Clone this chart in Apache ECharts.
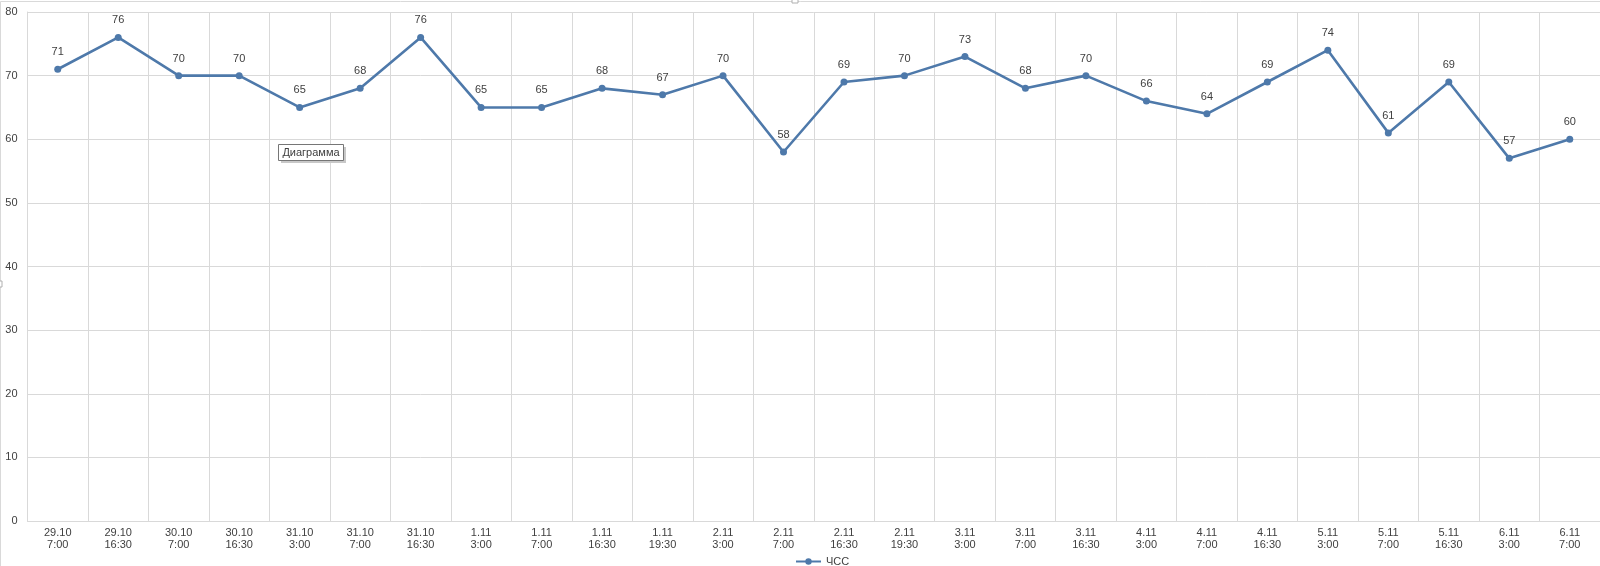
<!DOCTYPE html>
<html>
<head>
<meta charset="utf-8">
<script src="https://cdn.jsdelivr.net/npm/echarts@6/dist/echarts.min.js"></script>
<style>
html,body{margin:0;padding:0;background:#fff;}
#c{width:1600px;height:566px;}
</style>
</head>
<body>
<div id="c"></div>
<script>
const categories = ["29.10\n7:00","29.10\n16:30","30.10\n7:00","30.10\n16:30","31.10\n3:00","31.10\n7:00","31.10\n16:30","1.11\n3:00","1.11\n7:00","1.11\n16:30","1.11\n19:30","2.11\n3:00","2.11\n7:00","2.11\n16:30","2.11\n19:30","3.11\n3:00","3.11\n7:00","3.11\n16:30","4.11\n3:00","4.11\n7:00","4.11\n16:30","5.11\n3:00","5.11\n7:00","5.11\n16:30","6.11\n3:00","6.11\n7:00"];
const hr = [71,76,70,70,65,68,76,65,65,68,67,70,58,69,70,73,68,70,66,64,69,74,61,69,57,60];
const seriesName = "ЧСС";
const yMin = 0, yMax = 80, yInterval = 10;

const FONT = "Liberation Sans";
const chart = echarts.init(document.getElementById('c'), null, {renderer:'canvas'});
chart.setOption({
  animation:false,
  backgroundColor:'#fff',
  textStyle:{fontFamily:FONT},
  grid:{left:27.5, top:12, width:1583, bottom:45, containLabel:false},
  legend:{
    data:[seriesName], left:790, top:551, itemWidth:25, itemHeight:8, itemGap:5,
    textStyle:{fontFamily:FONT,fontSize:11,color:'#404040'}
  },
  xAxis:{
    type:'category', data:categories, boundaryGap:true,
    axisLine:{show:true,lineStyle:{color:'#d9d9d9',width:1}},
    axisTick:{show:false},
    splitLine:{show:true,lineStyle:{color:'#d9d9d9',width:1}},
    axisLabel:{interval:0,fontFamily:FONT,fontSize:11,color:'#404040',lineHeight:12,margin:6}
  },
  yAxis:{
    type:'value', min:yMin, max:yMax, interval:yInterval,
    axisLine:{show:true,lineStyle:{color:'#d9d9d9'}},
    axisTick:{show:false},
    splitLine:{show:true,lineStyle:{color:'#d9d9d9',width:1}},
    axisLabel:{fontFamily:FONT,fontSize:11,color:'#404040',margin:10}
  },
  series:[{
    name:seriesName, type:'line', data:hr,
    symbol:'circle', symbolSize:7,
    lineStyle:{color:'#4e79aa',width:2.6},
    itemStyle:{color:'#4e79aa'},
    label:{show:true,position:'top',distance:8,fontFamily:FONT,fontSize:11,color:'#404040'}
  }],
  graphic:[
    {type:'rect',shape:{x:0.5,y:1.5,width:1620,height:600},style:{fill:null,stroke:'#d9d9d9',lineWidth:1},silent:true,z:-1},
    {type:'rect',shape:{x:792,y:-2,width:6,height:5},style:{fill:'#fff',stroke:'#b0b0b0',lineWidth:1},silent:true},
    {type:'rect',shape:{x:-3,y:281,width:5,height:6},style:{fill:'#fff',stroke:'#b0b0b0',lineWidth:1},silent:true},
    {type:'rect',shape:{x:281,y:147,width:65,height:16},style:{fill:'#c8c8c8',stroke:null},silent:true,z:100},
    {type:'rect',shape:{x:278.5,y:144.5,width:65,height:16},style:{fill:'#ffffff',stroke:'#767676',lineWidth:1},silent:true,z:101},
    {type:'text',x:311,y:153,style:{text:'Диаграмма',fontFamily:FONT,fontSize:11,fill:'#404040',align:'center',verticalAlign:'middle'},silent:true,z:102}
  ]
});
</script>
</body>
</html>
